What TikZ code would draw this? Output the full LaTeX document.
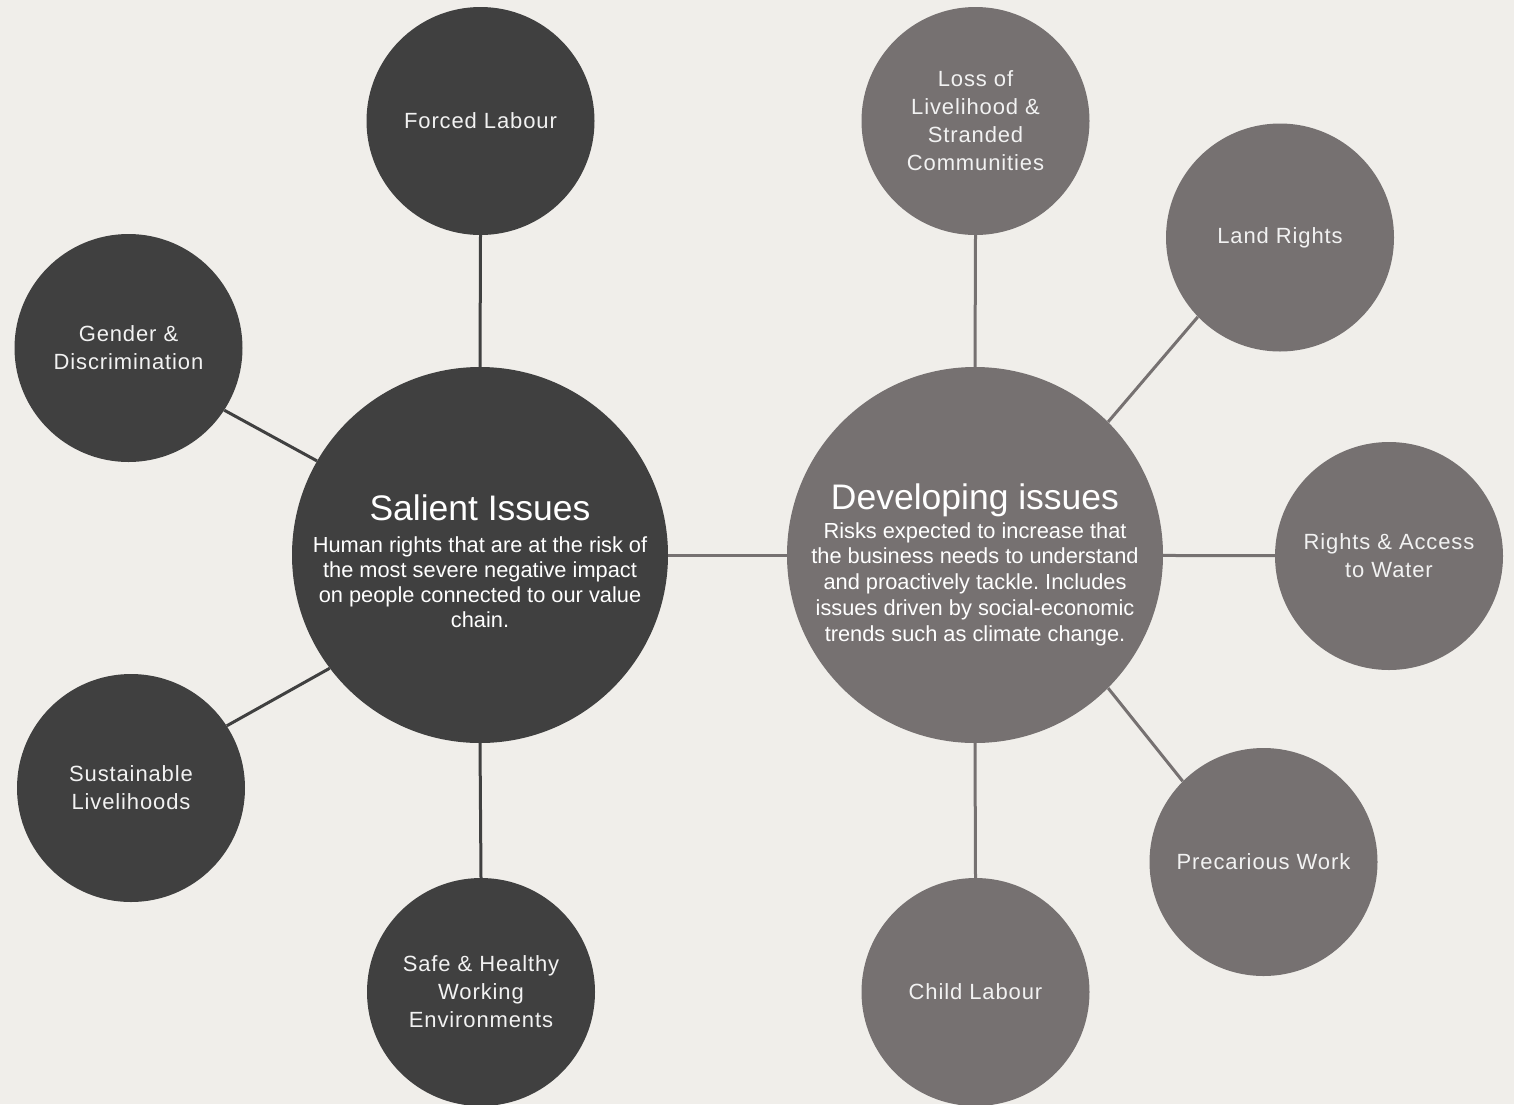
\documentclass[tikz,border=0pt]{standalone}
\usepackage{fontspec}
\setmainfont{Liberation Sans}
\newfontfamily\labelfont[LetterSpace=4]{Liberation Sans}
\definecolor{bgc}{HTML}{F0EEEA}
\definecolor{darkc}{HTML}{404040}
\definecolor{greyc}{HTML}{767171}
\definecolor{labelc}{HTML}{F2F2F2}
\frenchspacing
\begin{document}
\begin{tikzpicture}[x=1pt,y=-1pt,
  bigdark/.style={circle,fill=darkc,minimum size=376pt,inner sep=0pt},
  biggrey/.style={circle,fill=greyc,minimum size=376pt,inner sep=0pt},
  smallbase/.style={circle,minimum size=228pt,inner sep=0pt,text=labelc,
    font=\labelfont\fontsize{22}{28}\selectfont,align=center},
  smalldark/.style={smallbase,fill=darkc},
  smallgrey/.style={smallbase,fill=greyc},
  darkline/.style={draw=darkc,line width=3pt},
  greyline/.style={draw=greyc,line width=3pt},
  titletext/.style={text=white,font=\fontsize{35.5}{40}\selectfont,inner sep=0pt,anchor=base},
  bodytext/.style={text=white,align=center,inner sep=0pt}]
\clip (0,0) rectangle (1514,1104);
\fill[bgc] (0,0) rectangle (1514,1104);

% centre circles
\node[bigdark] (sal) at (480,555) {};
\node[biggrey] (dev) at (975,555) {};

% satellite circles
\node[smalldark] (forced) at (480.5,121) {Forced Labour};
\node[smalldark] (gender) at (128.5,348) {Gender \&\\Discrimination};
\node[smalldark] (sust) at (131,788) {Sustainable\\Livelihoods};
\node[smalldark] (safe) at (481,992) {Safe \& Healthy\\Working\\Environments};
\node[smallgrey] (loss) at (975.5,121) {Loss of\\Livelihood \&\\Stranded\\Communities};
\node[smallgrey] (land) at (1280,237.5) {Land Rights};
\node[smallgrey] (water) at (1389,556) {Rights \& Access\\to Water};
\node[smallgrey] (prec) at (1263.5,862) {Precarious Work};
\node[smallgrey] (child) at (975.5,992) {Child Labour};

% texts in the centre circles
\node[titletext] (saltitle) at (480,520) {Salient Issues};
\node[bodytext,font=\fontsize{21.8}{25}\selectfont] (salbody) at (480,582)
  {Human rights that are at the risk of\\the most severe negative impact\\on people connected to our value\\chain.};
\node[titletext] (devtitle) at (975,509) {Developing issues};
\node[bodytext,font=\fontsize{21.8}{25.75}\selectfont] (devbody) at (975,584)
  {Risks expected to increase that\\the business needs to understand\\and proactively tackle. Includes\\issues driven by social-economic\\trends such as climate change.};

% connectors
\draw[darkline] (forced.south) -- (sal.north);
\draw[darkline] (gender.-33.7) -- (sal.150.9);
\draw[darkline] (sust.33.4) -- (sal.217.5);
\draw[darkline] (safe.north) -- (sal.south);
\draw[greyline] (sal) -- (dev);
\draw[greyline] (loss.south) -- (dev.north);
\draw[greyline] (land.224.1) -- (dev.45.2);
\draw[greyline] (dev) -- (water);
\draw[greyline] (dev.-45.4) -- (prec.135.2);
\draw[greyline] (child.north) -- (dev.south);
\end{tikzpicture}
\end{document}
